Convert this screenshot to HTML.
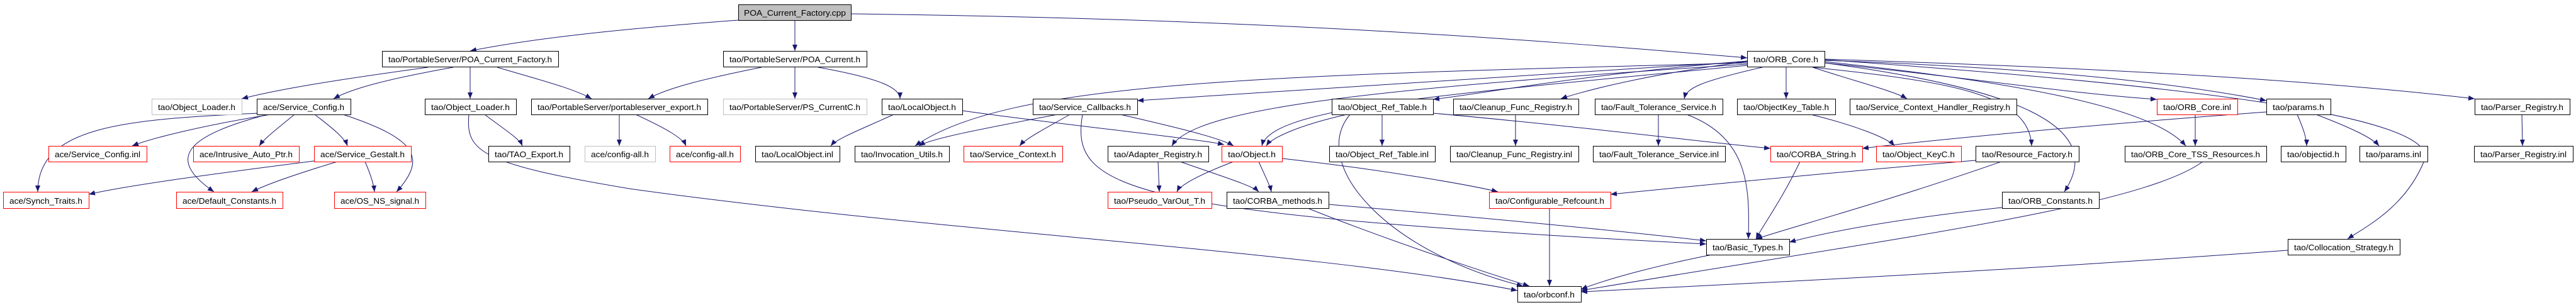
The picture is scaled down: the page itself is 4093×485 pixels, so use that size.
<!DOCTYPE html>
<html><head><meta charset="utf-8"><style>
html,body{margin:0;padding:0;background:#fff;}
svg{display:block;}
text{font-family:"Liberation Sans",sans-serif;font-size:13px;fill:#000;}
</style></head><body>
<svg width="4093" height="485" viewBox="0 0 4093 485" xmlns="http://www.w3.org/2000/svg">
<defs><marker id="a" markerWidth="10" markerHeight="8" refX="10" refY="4" orient="auto" markerUnits="userSpaceOnUse"><path d="M0,0 L10,4 L0,8 z" fill="#191970"/></marker></defs>
<g fill="none" stroke="#191970" stroke-width="1" marker-end="url(#a)">
<path d="M1173 32 C1000 45 850 60 747 81"/>
<path d="M1263 33 L1263 81"/>
<path d="M1352 22 C2000 30 2400 60 2776 92"/>
<path d="M680 107 C550 125 450 140 384 157"/>
<path d="M720 107 C620 125 560 140 530 157"/>
<path d="M747 107 L747 157"/>
<path d="M790 107 C850 125 910 140 940 157"/>
<path d="M1210 107 C1120 125 1060 140 1030 157"/>
<path d="M1263 107 L1263 157"/>
<path d="M1300 107 C1400 125 1430 140 1430 157"/>
<path d="M2776 100 C2000 120 1600 130 1454 232"/>
<path d="M2776 98 C2400 120 2000 150 1807 160"/>
<path d="M2776 102 C2200 140 1900 170 1862 232"/>
<path d="M2776 104 C2300 150 2020 170 2005 232"/>
<path d="M2776 97 C2500 120 2350 150 2277 158"/>
<path d="M2776 98 C2600 120 2500 150 2480 157"/>
<path d="M2800 107 C2700 130 2680 140 2676 157"/>
<path d="M2838 107 L2838 157"/>
<path d="M2880 107 C2950 130 3010 145 3030 157"/>
<path d="M2880 107 C3100 130 3225 150 3228 232"/>
<path d="M2899 100 C3200 140 3350 200 3280 305"/>
<path d="M2899 100 C3100 120 3300 150 3427 158"/>
<path d="M2899 98 C3200 130 3420 170 3473 232"/>
<path d="M2899 96 C3300 110 3500 140 3601 160"/>
<path d="M2899 95 C3400 130 3900 180 3850 260 C3820 330 3760 360 3730 380"/>
<path d="M2899 94 C3400 110 3700 130 3932 157"/>
<path d="M1680 182 C1560 205 1480 220 1460 232"/>
<path d="M1700 182 C1660 205 1630 220 1620 232"/>
<path d="M1780 182 C1880 205 1940 220 1960 232"/>
<path d="M1720 182 C1700 300 1780 340 2711 388"/>
<path d="M1420 182 C1370 205 1330 220 1320 232"/>
<path d="M1529 176 C1700 200 1900 220 1945 230"/>
<path d="M1840 257 L1842 305"/>
<path d="M1875 257 C1940 280 1990 295 2000 305"/>
<path d="M1960 257 C1900 280 1875 295 1870 305"/>
<path d="M2000 257 C2010 280 2018 295 2020 305"/>
<path d="M2037 252 C2200 270 2340 295 2380 305"/>
<path d="M2196 182 L2196 232"/>
<path d="M2140 182 C2060 200 2020 220 2012 232"/>
<path d="M2277 180 C2500 200 2700 225 2813 236"/>
<path d="M2145 182 C2080 260 2200 400 2420 455"/>
<path d="M2408 182 L2408 232"/>
<path d="M2635 182 L2635 232"/>
<path d="M2680 182 C2780 220 2780 300 2778 380"/>
<path d="M2877 182 C2950 200 3000 220 3010 232"/>
<path d="M3488 182 L3488 232"/>
<path d="M3601 178 C3300 200 3050 225 2959 236"/>
<path d="M3650 182 C3660 205 3665 220 3665 232"/>
<path d="M3680 182 C3740 205 3770 220 3780 232"/>
<path d="M4007 182 L4008 232"/>
<path d="M2860 257 C2830 320 2800 360 2790 380"/>
<path d="M3180 257 C3000 320 2850 360 2790 380"/>
<path d="M3139 255 C2900 275 2650 300 2559 309"/>
<path d="M3181 330 C3000 350 2900 370 2843 385"/>
<path d="M2111 325 C2400 350 2600 370 2711 383"/>
<path d="M2080 332 C2200 380 2350 430 2430 455"/>
<path d="M2462 332 L2462 455"/>
<path d="M2720 405 C2620 425 2550 445 2512 460"/>
<path d="M3500 257 C3400 330 3000 380 2512 462"/>
<path d="M3635 398 C3200 430 2800 450 2512 464"/>
<path d="M770 182 C800 205 825 220 830 232"/>
<path d="M745 182 C740 240 760 260 1000 300 C1500 370 2100 400 2411 462"/>
<path d="M984 182 L984 232"/>
<path d="M1010 182 C1060 205 1085 220 1090 232"/>
<path d="M410 180 C200 190 60 200 60 305"/>
<path d="M430 182 C320 200 240 220 210 232"/>
<path d="M425 182 C300 215 260 250 340 305"/>
<path d="M468 182 C440 205 420 220 412 232"/>
<path d="M500 182 C530 205 548 220 552 232"/>
<path d="M545 182 C660 220 680 250 630 305"/>
<path d="M499 256 C350 275 200 295 141 309"/>
<path d="M536 257 C460 280 420 295 400 305"/>
<path d="M580 257 C590 280 594 295 595 305"/>
</g>
<g stroke-width="1">
<rect x="1173.5" y="7.5" width="179" height="25" fill="#bfbfbf" stroke="#000"/><text x="1182" y="25" textLength="162" lengthAdjust="spacingAndGlyphs">POA_Current_Factory.cpp</text>
<rect x="607.5" y="81.5" width="280" height="25" fill="#fff" stroke="#000"/><text x="617" y="99" textLength="260" lengthAdjust="spacingAndGlyphs">tao/PortableServer/POA_Current_Factory.h</text>
<rect x="1149.5" y="81.5" width="228" height="25" fill="#fff" stroke="#000"/><text x="1159" y="99" textLength="208" lengthAdjust="spacingAndGlyphs">tao/PortableServer/POA_Current.h</text>
<rect x="2776.5" y="81.5" width="123" height="25" fill="#fff" stroke="#000"/><text x="2786" y="99" textLength="103" lengthAdjust="spacingAndGlyphs">tao/ORB_Core.h</text>
<rect x="241.5" y="157.5" width="143" height="25" fill="#fff" stroke="#bfbfbf"/><text x="251" y="175" textLength="123" lengthAdjust="spacingAndGlyphs">tao/Object_Loader.h</text>
<rect x="408.5" y="157.5" width="149" height="25" fill="#fff" stroke="#000"/><text x="418" y="175" textLength="129" lengthAdjust="spacingAndGlyphs">ace/Service_Config.h</text>
<rect x="675.5" y="157.5" width="145" height="25" fill="#fff" stroke="#000"/><text x="685" y="175" textLength="125" lengthAdjust="spacingAndGlyphs">tao/Object_Loader.h</text>
<rect x="844.5" y="157.5" width="280" height="25" fill="#fff" stroke="#000"/><text x="854" y="175" textLength="260" lengthAdjust="spacingAndGlyphs">tao/PortableServer/portableserver_export.h</text>
<rect x="1149.5" y="157.5" width="228" height="25" fill="#fff" stroke="#bfbfbf"/><text x="1159" y="175" textLength="208" lengthAdjust="spacingAndGlyphs">tao/PortableServer/PS_CurrentC.h</text>
<rect x="1401.5" y="157.5" width="128" height="25" fill="#fff" stroke="#000"/><text x="1411" y="175" textLength="108" lengthAdjust="spacingAndGlyphs">tao/LocalObject.h</text>
<rect x="1641.5" y="157.5" width="166" height="25" fill="#fff" stroke="#000"/><text x="1651" y="175" textLength="146" lengthAdjust="spacingAndGlyphs">tao/Service_Callbacks.h</text>
<rect x="2116.5" y="157.5" width="161" height="25" fill="#fff" stroke="#000"/><text x="2126" y="175" textLength="141" lengthAdjust="spacingAndGlyphs">tao/Object_Ref_Table.h</text>
<rect x="2309.5" y="157.5" width="199" height="25" fill="#fff" stroke="#000"/><text x="2319" y="175" textLength="179" lengthAdjust="spacingAndGlyphs">tao/Cleanup_Func_Registry.h</text>
<rect x="2534.5" y="157.5" width="203" height="25" fill="#fff" stroke="#000"/><text x="2544" y="175" textLength="183" lengthAdjust="spacingAndGlyphs">tao/Fault_Tolerance_Service.h</text>
<rect x="2760.5" y="157.5" width="156" height="25" fill="#fff" stroke="#000"/><text x="2770" y="175" textLength="136" lengthAdjust="spacingAndGlyphs">tao/ObjectKey_Table.h</text>
<rect x="2939.5" y="157.5" width="265" height="25" fill="#fff" stroke="#000"/><text x="2949" y="175" textLength="245" lengthAdjust="spacingAndGlyphs">tao/Service_Context_Handler_Registry.h</text>
<rect x="3427.5" y="157.5" width="128" height="25" fill="#fff" stroke="#f00"/><text x="3437" y="175" textLength="108" lengthAdjust="spacingAndGlyphs">tao/ORB_Core.inl</text>
<rect x="3601.5" y="157.5" width="102" height="25" fill="#fff" stroke="#000"/><text x="3611" y="175" textLength="82" lengthAdjust="spacingAndGlyphs">tao/params.h</text>
<rect x="3932.5" y="157.5" width="151" height="25" fill="#fff" stroke="#000"/><text x="3942" y="175" textLength="131" lengthAdjust="spacingAndGlyphs">tao/Parser_Registry.h</text>

<rect x="77.5" y="232.5" width="156" height="25" fill="#fff" stroke="#f00"/><text x="87" y="250" textLength="136" lengthAdjust="spacingAndGlyphs">ace/Service_Config.inl</text>
<rect x="307.5" y="232.5" width="168" height="25" fill="#fff" stroke="#f00"/><text x="317" y="250" textLength="148" lengthAdjust="spacingAndGlyphs">ace/Intrusive_Auto_Ptr.h</text>
<rect x="499.5" y="232.5" width="154" height="25" fill="#fff" stroke="#f00"/><text x="509" y="250" textLength="134" lengthAdjust="spacingAndGlyphs">ace/Service_Gestalt.h</text>
<rect x="776.5" y="232.5" width="129" height="25" fill="#fff" stroke="#000"/><text x="786" y="250" textLength="109" lengthAdjust="spacingAndGlyphs">tao/TAO_Export.h</text>
<rect x="929.5" y="232.5" width="112" height="25" fill="#fff" stroke="#bfbfbf"/><text x="939" y="250" textLength="92" lengthAdjust="spacingAndGlyphs">ace/config-all.h</text>
<rect x="1064.5" y="232.5" width="112" height="25" fill="#fff" stroke="#f00"/><text x="1074" y="250" textLength="92" lengthAdjust="spacingAndGlyphs">ace/config-all.h</text>
<rect x="1200.5" y="232.5" width="134" height="25" fill="#fff" stroke="#000"/><text x="1210" y="250" textLength="114" lengthAdjust="spacingAndGlyphs">tao/LocalObject.inl</text>
<rect x="1358.5" y="232.5" width="150" height="25" fill="#fff" stroke="#000"/><text x="1368" y="250" textLength="130" lengthAdjust="spacingAndGlyphs">tao/Invocation_Utils.h</text>
<rect x="1531.5" y="232.5" width="157" height="25" fill="#fff" stroke="#f00"/><text x="1541" y="250" textLength="137" lengthAdjust="spacingAndGlyphs">tao/Service_Context.h</text>
<rect x="1760.5" y="232.5" width="160" height="25" fill="#fff" stroke="#000"/><text x="1770" y="250" textLength="140" lengthAdjust="spacingAndGlyphs">tao/Adapter_Registry.h</text>
<rect x="1941.5" y="232.5" width="96" height="25" fill="#fff" stroke="#f00"/><text x="1951" y="250" textLength="76" lengthAdjust="spacingAndGlyphs">tao/Object.h</text>
<rect x="2112.5" y="232.5" width="168" height="25" fill="#fff" stroke="#000"/><text x="2122" y="250" textLength="148" lengthAdjust="spacingAndGlyphs">tao/Object_Ref_Table.inl</text>
<rect x="2304.5" y="232.5" width="204" height="25" fill="#fff" stroke="#000"/><text x="2314" y="250" textLength="184" lengthAdjust="spacingAndGlyphs">tao/Cleanup_Func_Registry.inl</text>
<rect x="2531.5" y="232.5" width="210" height="25" fill="#fff" stroke="#000"/><text x="2541" y="250" textLength="190" lengthAdjust="spacingAndGlyphs">tao/Fault_Tolerance_Service.inl</text>
<rect x="2813.5" y="232.5" width="146" height="25" fill="#fff" stroke="#f00"/><text x="2823" y="250" textLength="126" lengthAdjust="spacingAndGlyphs">tao/CORBA_String.h</text>
<rect x="2981.5" y="232.5" width="135" height="25" fill="#fff" stroke="#f00"/><text x="2991" y="250" textLength="115" lengthAdjust="spacingAndGlyphs">tao/Object_KeyC.h</text>
<rect x="3139.5" y="232.5" width="164" height="25" fill="#fff" stroke="#000"/><text x="3149" y="250" textLength="144" lengthAdjust="spacingAndGlyphs">tao/Resource_Factory.h</text>
<rect x="3376.5" y="232.5" width="225" height="25" fill="#fff" stroke="#000"/><text x="3386" y="250" textLength="205" lengthAdjust="spacingAndGlyphs">tao/ORB_Core_TSS_Resources.h</text>
<rect x="3624.5" y="232.5" width="103" height="25" fill="#fff" stroke="#000"/><text x="3634" y="250" textLength="83" lengthAdjust="spacingAndGlyphs">tao/objectid.h</text>
<rect x="3749.5" y="232.5" width="108" height="25" fill="#fff" stroke="#000"/><text x="3759" y="250" textLength="88" lengthAdjust="spacingAndGlyphs">tao/params.inl</text>
<rect x="3931.5" y="232.5" width="157" height="25" fill="#fff" stroke="#000"/><text x="3941" y="250" textLength="137" lengthAdjust="spacingAndGlyphs">tao/Parser_Registry.inl</text>

<rect x="5.5" y="305.5" width="136" height="26" fill="#fff" stroke="#f00"/><text x="15" y="324" textLength="116" lengthAdjust="spacingAndGlyphs">ace/Synch_Traits.h</text>
<rect x="280.5" y="305.5" width="169" height="26" fill="#fff" stroke="#f00"/><text x="290" y="324" textLength="149" lengthAdjust="spacingAndGlyphs">ace/Default_Constants.h</text>
<rect x="531.5" y="305.5" width="145" height="26" fill="#fff" stroke="#f00"/><text x="541" y="324" textLength="125" lengthAdjust="spacingAndGlyphs">ace/OS_NS_signal.h</text>
<rect x="1760.5" y="305.5" width="165" height="26" fill="#fff" stroke="#f00"/><text x="1770" y="324" textLength="145" lengthAdjust="spacingAndGlyphs">tao/Pseudo_VarOut_T.h</text>
<rect x="1949.5" y="305.5" width="162" height="26" fill="#fff" stroke="#000"/><text x="1959" y="324" textLength="142" lengthAdjust="spacingAndGlyphs">tao/CORBA_methods.h</text>
<rect x="2366.5" y="305.5" width="193" height="26" fill="#fff" stroke="#f00"/><text x="2376" y="324" textLength="173" lengthAdjust="spacingAndGlyphs">tao/Configurable_Refcount.h</text>
<rect x="3181.5" y="305.5" width="154" height="26" fill="#fff" stroke="#000"/><text x="3191" y="324" textLength="134" lengthAdjust="spacingAndGlyphs">tao/ORB_Constants.h</text>

<rect x="2711.5" y="380.5" width="132" height="25" fill="#fff" stroke="#000"/><text x="2721" y="398" textLength="112" lengthAdjust="spacingAndGlyphs">tao/Basic_Types.h</text>
<rect x="3635.5" y="380.5" width="178" height="25" fill="#fff" stroke="#000"/><text x="3645" y="398" textLength="158" lengthAdjust="spacingAndGlyphs">tao/Collocation_Strategy.h</text>
<rect x="2411.5" y="455.5" width="101" height="25" fill="#fff" stroke="#000"/><text x="2421" y="473" textLength="81" lengthAdjust="spacingAndGlyphs">tao/orbconf.h</text>
</g>
</svg>
</body></html>
